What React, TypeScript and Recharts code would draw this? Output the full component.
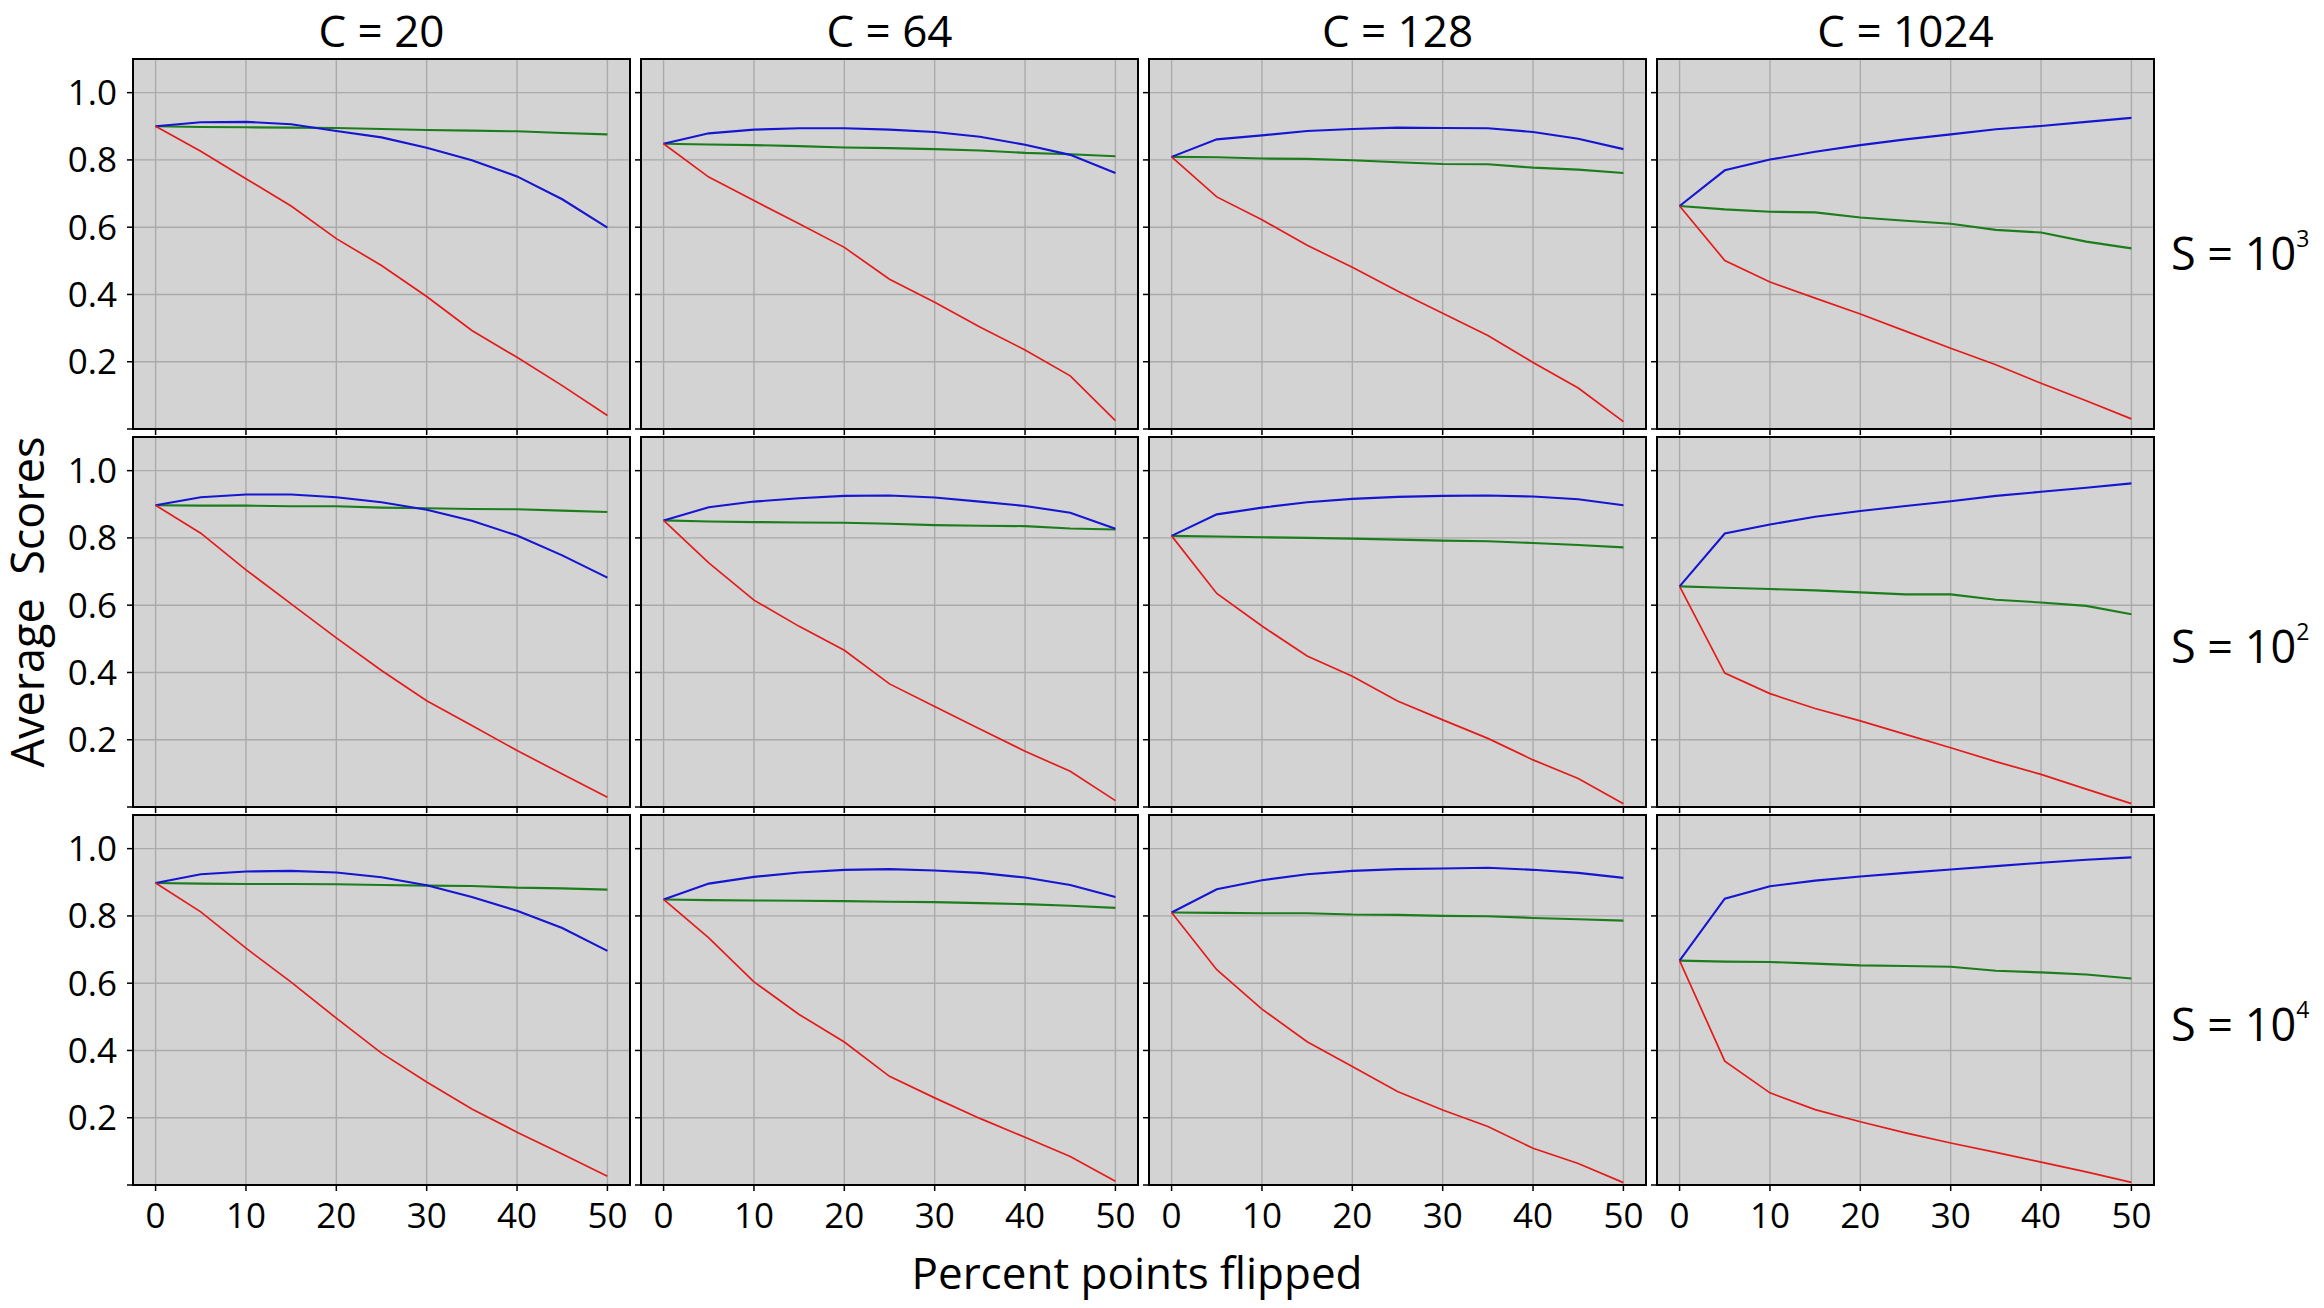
import { LineChart, Line, XAxis, YAxis, CartesianGrid, ReferenceArea } from 'recharts'

// percent of points flipped (x axis)
const FLIPPED = [0, 5, 10, 15, 20, 25, 30, 35, 40, 45, 50]

const C_LABELS = ['20', '64', '128', '1024']
const S_EXPONENTS = ['3', '2', '4']
const X_TICKS = [0, 10, 20, 30, 40, 50]
const Y_TICKS = [0, 0.2, 0.4, 0.6, 0.8, 1.0]

// S = 10^3
const RED_S3_C20 = [0.900, 0.826, 0.744, 0.663, 0.566, 0.486, 0.394, 0.293, 0.213, 0.129, 0.040]
const BLUE_S3_C20 = [0.900, 0.912, 0.913, 0.906, 0.886, 0.867, 0.836, 0.799, 0.751, 0.683, 0.599]
const GREEN_S3_C20 = [0.900, 0.898, 0.897, 0.896, 0.895, 0.892, 0.889, 0.887, 0.885, 0.880, 0.876]
const RED_S3_C64 = [0.848, 0.749, 0.679, 0.610, 0.540, 0.445, 0.377, 0.303, 0.235, 0.158, 0.025]
const BLUE_S3_C64 = [0.848, 0.879, 0.890, 0.894, 0.894, 0.890, 0.883, 0.869, 0.845, 0.815, 0.761]
const GREEN_S3_C64 = [0.848, 0.846, 0.844, 0.841, 0.837, 0.835, 0.832, 0.828, 0.821, 0.817, 0.811]
const RED_S3_C128 = [0.809, 0.690, 0.622, 0.546, 0.481, 0.410, 0.344, 0.278, 0.198, 0.122, 0.022]
const BLUE_S3_C128 = [0.809, 0.861, 0.873, 0.886, 0.892, 0.896, 0.895, 0.894, 0.883, 0.863, 0.832]
const GREEN_S3_C128 = [0.809, 0.808, 0.804, 0.803, 0.799, 0.793, 0.788, 0.787, 0.777, 0.771, 0.761]
const RED_S3_C1024 = [0.663, 0.501, 0.437, 0.389, 0.342, 0.291, 0.240, 0.191, 0.136, 0.084, 0.030]
const BLUE_S3_C1024 = [0.663, 0.769, 0.801, 0.824, 0.844, 0.861, 0.876, 0.891, 0.901, 0.913, 0.925]
const GREEN_S3_C1024 = [0.663, 0.653, 0.646, 0.644, 0.629, 0.619, 0.610, 0.592, 0.584, 0.557, 0.537]

// S = 10^2
const RED_S2_C20 = [0.897, 0.814, 0.705, 0.604, 0.503, 0.406, 0.316, 0.242, 0.168, 0.098, 0.029]
const BLUE_S2_C20 = [0.897, 0.921, 0.929, 0.929, 0.921, 0.906, 0.884, 0.851, 0.807, 0.748, 0.682]
const GREEN_S2_C20 = [0.897, 0.896, 0.896, 0.894, 0.894, 0.890, 0.888, 0.886, 0.885, 0.881, 0.877]
const RED_S2_C64 = [0.852, 0.726, 0.615, 0.537, 0.466, 0.366, 0.299, 0.232, 0.166, 0.106, 0.019]
const BLUE_S2_C64 = [0.852, 0.891, 0.908, 0.918, 0.925, 0.926, 0.920, 0.908, 0.895, 0.875, 0.827]
const GREEN_S2_C64 = [0.852, 0.849, 0.847, 0.846, 0.845, 0.842, 0.838, 0.836, 0.835, 0.828, 0.825]
const RED_S2_C128 = [0.806, 0.635, 0.538, 0.449, 0.389, 0.315, 0.259, 0.204, 0.140, 0.085, 0.010]
const BLUE_S2_C128 = [0.806, 0.870, 0.890, 0.906, 0.916, 0.922, 0.925, 0.926, 0.923, 0.915, 0.897]
const GREEN_S2_C128 = [0.806, 0.804, 0.802, 0.800, 0.798, 0.795, 0.792, 0.790, 0.785, 0.779, 0.772]
const RED_S2_C1024 = [0.656, 0.398, 0.337, 0.293, 0.256, 0.216, 0.176, 0.135, 0.097, 0.053, 0.010]
const BLUE_S2_C1024 = [0.656, 0.813, 0.840, 0.863, 0.880, 0.895, 0.909, 0.925, 0.937, 0.949, 0.962]
const GREEN_S2_C1024 = [0.656, 0.652, 0.648, 0.644, 0.638, 0.632, 0.632, 0.616, 0.608, 0.598, 0.573]

// S = 10^4
const RED_S4_C20 = [0.898, 0.812, 0.704, 0.603, 0.496, 0.392, 0.306, 0.226, 0.157, 0.092, 0.026]
const BLUE_S4_C20 = [0.898, 0.924, 0.932, 0.934, 0.929, 0.915, 0.891, 0.856, 0.815, 0.764, 0.696]
const GREEN_S4_C20 = [0.898, 0.896, 0.895, 0.895, 0.894, 0.892, 0.890, 0.889, 0.884, 0.882, 0.878]
const RED_S4_C64 = [0.849, 0.735, 0.604, 0.507, 0.425, 0.323, 0.259, 0.198, 0.142, 0.085, 0.011]
const BLUE_S4_C64 = [0.849, 0.896, 0.916, 0.929, 0.937, 0.939, 0.935, 0.928, 0.914, 0.892, 0.856]
const GREEN_S4_C64 = [0.849, 0.847, 0.846, 0.845, 0.844, 0.842, 0.841, 0.838, 0.835, 0.830, 0.824]
const RED_S4_C128 = [0.810, 0.640, 0.523, 0.426, 0.352, 0.278, 0.223, 0.174, 0.109, 0.064, 0.007]
const BLUE_S4_C128 = [0.810, 0.879, 0.906, 0.924, 0.934, 0.939, 0.941, 0.943, 0.937, 0.928, 0.913]
const GREEN_S4_C128 = [0.810, 0.809, 0.808, 0.808, 0.804, 0.803, 0.800, 0.799, 0.794, 0.790, 0.786]
const RED_S4_C1024 = [0.667, 0.368, 0.274, 0.224, 0.188, 0.155, 0.125, 0.097, 0.068, 0.039, 0.008]
const BLUE_S4_C1024 = [0.667, 0.851, 0.888, 0.905, 0.917, 0.928, 0.938, 0.948, 0.958, 0.967, 0.974]
const GREEN_S4_C1024 = [0.667, 0.664, 0.663, 0.658, 0.653, 0.651, 0.649, 0.637, 0.632, 0.626, 0.614]

const GRID = [
  [
    [RED_S3_C20, BLUE_S3_C20, GREEN_S3_C20],
    [RED_S3_C64, BLUE_S3_C64, GREEN_S3_C64],
    [RED_S3_C128, BLUE_S3_C128, GREEN_S3_C128],
    [RED_S3_C1024, BLUE_S3_C1024, GREEN_S3_C1024],
  ],
  [
    [RED_S2_C20, BLUE_S2_C20, GREEN_S2_C20],
    [RED_S2_C64, BLUE_S2_C64, GREEN_S2_C64],
    [RED_S2_C128, BLUE_S2_C128, GREEN_S2_C128],
    [RED_S2_C1024, BLUE_S2_C1024, GREEN_S2_C1024],
  ],
  [
    [RED_S4_C20, BLUE_S4_C20, GREEN_S4_C20],
    [RED_S4_C64, BLUE_S4_C64, GREEN_S4_C64],
    [RED_S4_C128, BLUE_S4_C128, GREEN_S4_C128],
    [RED_S4_C1024, BLUE_S4_C1024, GREEN_S4_C1024],
  ],
]

const FONT = '"Open Sans", "Noto Sans", sans-serif'
const COL_X = [133, 641, 1149, 1657]
const ROW_Y = [59, 437, 815]
const PW = 497
const PH = 370
const X_DOMAIN: [number, number] = [-2.5, 52.5]
const Y_DOMAIN: [number, number] = [0, 1.1]
const PAD = 2

function Panel({ row, col }: { row: number; col: number }) {
  const [red, blue, green] = GRID[row][col]
  const data = FLIPPED.map((x, i) => ({ x, red: red[i], blue: blue[i], green: green[i] }))
  const yw = col === 0 ? 133 : 10
  const xh = row === 2 ? 70 : 8
  const tickStyle = { fill: '#000', fontSize: 35, fontFamily: FONT }
  // ticks stay in place on inner panels (for grid + tick marks), only their text is blank
  return (
    <div style={{ position: 'absolute', left: COL_X[col] - yw, top: ROW_Y[row] - PAD }}>
      <LineChart
        width={yw + PW + PAD}
        height={PH + xh + PAD}
        data={data}
        margin={{ top: PAD, right: PAD, bottom: 0, left: 0 }}
      >
        <CartesianGrid fill="#d3d3d3" fillOpacity={1} stroke="#aaaaaa" strokeWidth={1.4} />
        <XAxis
          dataKey="x"
          type="number"
          domain={X_DOMAIN}
          ticks={X_TICKS}
          allowDataOverflow
          axisLine={false}
          tickLine={{ stroke: '#000', strokeWidth: 1.5 }}
          tickSize={6}
          tickMargin={12}
          height={xh}
          tick={tickStyle}
          tickFormatter={(v: number) => (row === 2 ? String(v) : '')}
        />
        <YAxis
          type="number"
          domain={Y_DOMAIN}
          ticks={Y_TICKS}
          allowDataOverflow
          axisLine={false}
          tickLine={{ stroke: '#000', strokeWidth: 1.5 }}
          tickSize={6}
          tickMargin={10}
          width={yw}
          tick={tickStyle}
          tickFormatter={(v: number) => (col !== 0 || v === 0 ? '' : v.toFixed(1))}
        />
        <Line type="linear" dataKey="green" stroke="#1c7d1c" strokeWidth={2.1} dot={false} isAnimationActive={false} />
        <Line type="linear" dataKey="blue" stroke="#1616d2" strokeWidth={2.1} dot={false} isAnimationActive={false} />
        <Line type="linear" dataKey="red" stroke="#e41b1b" strokeWidth={1.7} dot={false} isAnimationActive={false} />
        <ReferenceArea
          x1={X_DOMAIN[0]}
          x2={X_DOMAIN[1]}
          y1={Y_DOMAIN[0]}
          y2={Y_DOMAIN[1]}
          fill="none"
          stroke="#000"
          strokeWidth={2}
          ifOverflow="visible"
        />
      </LineChart>
    </div>
  )
}

export default function App() {
  return (
    <div style={{ position: 'relative', width: 2324, height: 1308, background: '#fff', fontFamily: FONT, color: '#000' }}>
      <style>{'body{margin:0}'}</style>
      {ROW_Y.map((_, r) => COL_X.map((_, c) => <Panel key={`${r}-${c}`} row={r} col={c} />))}
      {C_LABELS.map((c, i) => (
        <div
          key={c}
          style={{
            position: 'absolute',
            left: COL_X[i],
            width: PW,
            top: 0,
            lineHeight: 'normal',
            textAlign: 'center',
            fontSize: 44,
            whiteSpace: 'pre',
          }}
        >
          {`C = ${c}`}
        </div>
      ))}
      {S_EXPONENTS.map((e, i) => (
        <div
          key={e}
          style={{
            position: 'absolute',
            left: 2171,
            top: [253, 646, 1024][i] - 28,
            height: 56,
            lineHeight: '56px',
            fontSize: 45,
            whiteSpace: 'nowrap',
          }}
        >
          S = 10<sup style={{ fontSize: 23, verticalAlign: 'top', lineHeight: '26px' }}>{e}</sup>
        </div>
      ))}
      <div
        style={{
          position: 'absolute',
          left: 27 - 250,
          top: 602 - 28,
          width: 500,
          height: 56,
          lineHeight: '56px',
          textAlign: 'center',
          fontSize: 45,
          whiteSpace: 'pre',
          transform: 'rotate(-90deg)',
        }}
      >
        {'Average  Scores'}
      </div>
      <div
        style={{
          position: 'absolute',
          left: 1137 - 400,
          top: 1272 - 28,
          width: 800,
          height: 56,
          lineHeight: '56px',
          textAlign: 'center',
          fontSize: 44,
        }}
      >
        Percent points flipped
      </div>
    </div>
  )
}
